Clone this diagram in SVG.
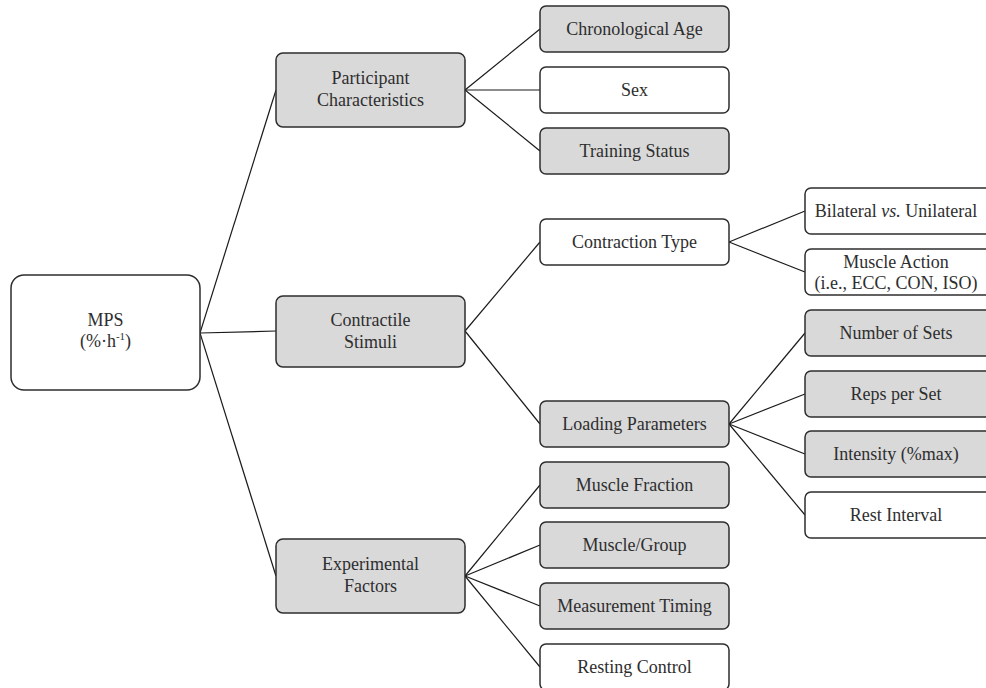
<svg xmlns="http://www.w3.org/2000/svg" width="986" height="688" viewBox="0 0 986 688">
<style>
.b{stroke:#2e2e2e;stroke-width:1.5;}
.g{fill:#d9d9d9;}
.w{fill:#ffffff;}
text{font-family:"Liberation Serif","Times New Roman",serif;font-size:18px;fill:#2e2e2e;text-anchor:middle;}
.c line{stroke:#1a1a1a;stroke-width:1.2;}
</style>
<rect width="986" height="688" fill="#ffffff"/>
<g class="c" id="connectors">
<line x1="200" y1="333" x2="276" y2="90"/>
<line x1="200" y1="333" x2="276" y2="331"/>
<line x1="200" y1="333" x2="276" y2="576"/>
<line x1="465" y1="90" x2="540" y2="29"/>
<line x1="465" y1="90" x2="540" y2="90"/>
<line x1="465" y1="90" x2="540" y2="151"/>
<line x1="465" y1="331" x2="540" y2="242"/>
<line x1="465" y1="331" x2="540" y2="424"/>
<line x1="729" y1="242" x2="805" y2="211"/>
<line x1="729" y1="242" x2="805" y2="272"/>
<line x1="729" y1="424" x2="805" y2="333"/>
<line x1="729" y1="424" x2="805" y2="394"/>
<line x1="729" y1="424" x2="805" y2="454"/>
<line x1="729" y1="424" x2="805" y2="515"/>
<line x1="465" y1="576" x2="540" y2="485"/>
<line x1="465" y1="576" x2="540" y2="545"/>
<line x1="465" y1="576" x2="540" y2="606"/>
<line x1="465" y1="576" x2="540" y2="667"/>
</g>
<g id="mps"><rect class="b w" x="11" y="275" width="189" height="115" rx="13"/><text x="105.5" y="326">MPS</text><text x="105.5" y="347">(%·h<tspan font-size="11" dy="-7">-1</tspan><tspan dy="7">)</tspan></text></g>
<g id="participant"><rect class="b g" x="276" y="53" width="189" height="74" rx="7"/><text x="370.5" y="84">Participant</text><text x="370.5" y="106">Characteristics</text></g>
<g id="contractile"><rect class="b g" x="276" y="296" width="189" height="71" rx="7"/><text x="370.5" y="326">Contractile</text><text x="370.5" y="348">Stimuli</text></g>
<g id="experimental"><rect class="b g" x="276" y="539" width="189" height="74" rx="7"/><text x="370.5" y="570">Experimental</text><text x="370.5" y="592">Factors</text></g>
<g id="chrono"><rect class="b g" x="540" y="6" width="189" height="46" rx="6"/><text x="634.5" y="35">Chronological Age</text></g>
<g id="sex"><rect class="b w" x="540" y="67" width="189" height="46" rx="6"/><text x="634.5" y="96">Sex</text></g>
<g id="training"><rect class="b g" x="540" y="128" width="189" height="46" rx="6"/><text x="634.5" y="157">Training Status</text></g>
<g id="contraction"><rect class="b w" x="540" y="219" width="189" height="46" rx="6"/><text x="634.5" y="248">Contraction Type</text></g>
<g id="loading"><rect class="b g" x="540" y="401" width="189" height="46" rx="6"/><text x="634.5" y="430">Loading Parameters</text></g>
<g id="fraction"><rect class="b g" x="540" y="462" width="189" height="46" rx="6"/><text x="634.5" y="491">Muscle Fraction</text></g>
<g id="group"><rect class="b g" x="540" y="522" width="189" height="46" rx="6"/><text x="634.5" y="551">Muscle/Group</text></g>
<g id="timing"><rect class="b g" x="540" y="583" width="189" height="46" rx="6"/><text x="634.5" y="612">Measurement Timing</text></g>
<g id="resting"><rect class="b w" x="540" y="644" width="189" height="46" rx="6"/><text x="634.5" y="673">Resting Control</text></g>
<g id="bilateral"><rect class="b w" x="805" y="188" width="189" height="46" rx="6"/><text x="896" y="217">Bilateral <tspan font-style="italic">vs.</tspan> Unilateral</text></g>
<g id="action"><rect class="b w" x="805" y="249" width="189" height="46" rx="6"/><text x="896" y="268">Muscle Action</text><text x="896" y="289">(i.e., ECC, CON, ISO)</text></g>
<g id="sets"><rect class="b g" x="805" y="310" width="189" height="46" rx="6"/><text x="896" y="339">Number of Sets</text></g>
<g id="reps"><rect class="b g" x="805" y="371" width="189" height="46" rx="6"/><text x="896" y="400">Reps per Set</text></g>
<g id="intensity"><rect class="b g" x="805" y="431" width="189" height="46" rx="6"/><text x="896" y="460">Intensity (%max)</text></g>
<g id="rest"><rect class="b w" x="805" y="492" width="189" height="46" rx="6"/><text x="896" y="521">Rest Interval</text></g>
</svg>
